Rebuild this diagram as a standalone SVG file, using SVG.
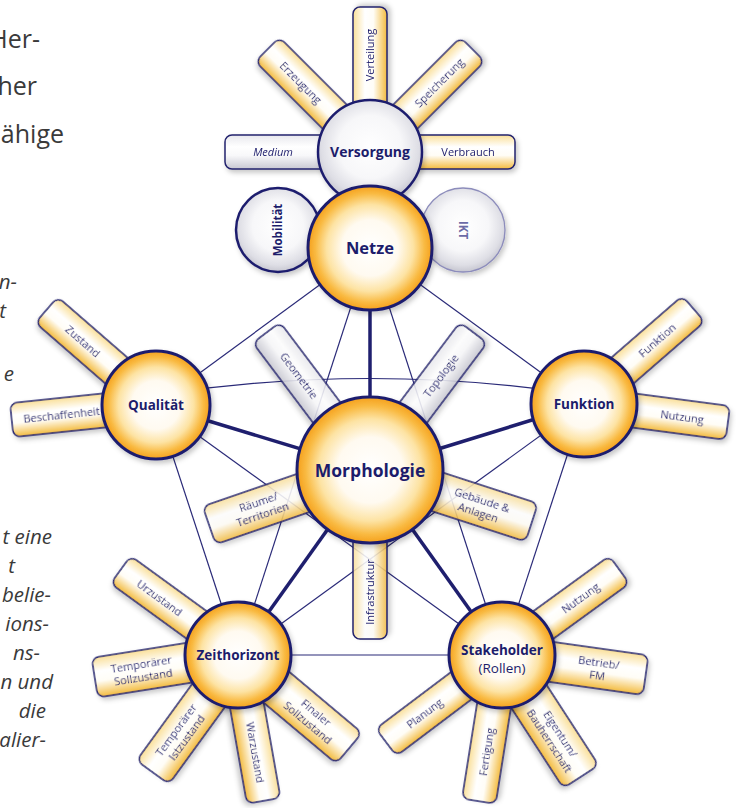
<svg xmlns="http://www.w3.org/2000/svg" width="736" height="808" viewBox="0 0 736 808">
<defs>
<radialGradient id="go" cx="50%" cy="50%" r="50%">
<stop offset="0" stop-color="#ffffff"/>
<stop offset="0.45" stop-color="#fffaf0"/>
<stop offset="0.7" stop-color="#fde3a3"/>
<stop offset="0.88" stop-color="#f9ba42"/>
<stop offset="1" stop-color="#f5a01c"/>
</radialGradient>
<radialGradient id="gg" cx="50%" cy="45%" r="55%">
<stop offset="0" stop-color="#ffffff"/>
<stop offset="0.55" stop-color="#f7f7f9"/>
<stop offset="0.85" stop-color="#dedee5"/>
<stop offset="1" stop-color="#c6c6d0"/>
</radialGradient>
<linearGradient id="py" x1="0" y1="0" x2="0" y2="1">
<stop offset="0" stop-color="#fadf98"/>
<stop offset="0.35" stop-color="#ffffff"/>
<stop offset="0.6" stop-color="#fffdf6"/>
<stop offset="1" stop-color="#f3bb3e"/>
</linearGradient>
<linearGradient id="pg" x1="0" y1="0" x2="0" y2="1">
<stop offset="0" stop-color="#e8e8ed"/>
<stop offset="0.35" stop-color="#ffffff"/>
<stop offset="0.6" stop-color="#f8f8fa"/>
<stop offset="1" stop-color="#c8c8d2"/>
</linearGradient>
<filter id="sh" x="-30%" y="-30%" width="160%" height="160%">
<feDropShadow dx="2" dy="3" stdDeviation="2.5" flood-color="#000" flood-opacity="0.22"/>
</filter>
<style>
.side{font-family:"Open Sans","Noto Sans",sans-serif;fill:#3a3a3a}
.big{font-size:25px}
.it{font-size:20.5px;font-style:italic}
.py{fill:url(#py);stroke:#23236e;stroke-width:1.5}
.pg{fill:url(#pg);stroke:#23236e;stroke-width:1.5}
.mo{fill-opacity:0.86}
.pl{font-family:"Open Sans","Noto Sans",sans-serif;font-size:11px;fill:#1c1c6b;text-anchor:middle}
.co{fill:url(#go);stroke:#1f1f6e;stroke-width:3}
.cg{fill:url(#gg);stroke:#1f1f6e;stroke-width:2.5}
.nl{font-family:"Open Sans","Noto Sans",sans-serif;font-weight:bold;fill:#1c1c6b;text-anchor:middle}
.thin{stroke:#2a2a78;stroke-width:1.2;fill:none}
.thick{stroke:#1f1f6e;stroke-width:3.5;fill:none}
</style>
</defs>
<rect width="736" height="808" fill="#ffffff"/>

<g id="side-text">
<text class="side big" x="40" y="48" text-anchor="end">Her-</text>
<text class="side big" x="37" y="95" text-anchor="end">her</text>
<text class="side big" x="64" y="143" text-anchor="end">ähige</text>
<text class="side it" x="17" y="289" text-anchor="end">n-</text>
<text class="side it" x="6" y="318" text-anchor="end">t</text>
<text class="side it" x="14" y="381" text-anchor="end">e</text>
<text class="side it" x="52" y="544" text-anchor="end">t eine</text>
<text class="side it" x="15" y="573" text-anchor="end">t</text>
<text class="side it" x="51" y="602" text-anchor="end">belie-</text>
<text class="side it" x="49" y="631" text-anchor="end">ions-</text>
<text class="side it" x="40" y="660" text-anchor="end">ns-</text>
<text class="side it" x="53" y="689" text-anchor="end">n und</text>
<text class="side it" x="46" y="718" text-anchor="end">die</text>
<text class="side it" x="46" y="747" text-anchor="end">alier-</text>
</g>

<g id="connectors">
<line class="thin" x1="370" y1="248" x2="156" y2="405"/>
<line class="thin" x1="370" y1="248" x2="584" y2="404"/>
<line class="thin" x1="156" y1="405" x2="238" y2="655"/>
<line class="thin" x1="584" y1="404" x2="502" y2="655"/>
<line class="thin" x1="238" y1="655" x2="502" y2="655"/>
<line class="thin" x1="370" y1="248" x2="238" y2="655"/>
<line class="thin" x1="370" y1="248" x2="502" y2="655"/>
<line class="thin" x1="156" y1="405" x2="502" y2="655"/>
<line class="thin" x1="584" y1="404" x2="238" y2="655"/>
<path class="thin" d="M156 395 Q370 362 584 395"/>
<line class="thick" x1="370" y1="248" x2="370" y2="470"/>
<line class="thick" x1="156" y1="405" x2="370" y2="470"/>
<line class="thick" x1="584" y1="404" x2="370" y2="470"/>
<line class="thick" x1="238" y1="655" x2="370" y2="470"/>
<line class="thick" x1="502" y1="655" x2="370" y2="470"/>
</g>

<g id="node-versorgung">
<g transform="translate(370,152) rotate(0)" filter="url(#sh)"><rect class="pg" x="-145" y="-17" width="105" height="34" rx="7"/><text class="pl" x="-97" y="4" font-style="italic">Medium</text></g>
<g transform="translate(370,152) rotate(45)" filter="url(#sh)"><rect class="py" x="-145" y="-17" width="105" height="34" rx="7"/><text class="pl" x="-98" y="4">Erzeugung</text></g>
<g transform="translate(370,152) rotate(-90)" filter="url(#sh)"><rect class="py" x="40" y="-17" width="105" height="34" rx="7"/><text class="pl" x="97" y="4">Verteilung</text></g>
<g transform="translate(370,152) rotate(-45)" filter="url(#sh)"><rect class="py" x="40" y="-17" width="105" height="34" rx="7"/><text class="pl" x="98" y="4">Speicherung</text></g>
<g transform="translate(370,152) rotate(0)" filter="url(#sh)"><rect class="py" x="40" y="-17" width="105" height="34" rx="7"/><text class="pl" x="98" y="4">Verbrauch</text></g>
<circle class="cg" cx="370" cy="152" r="52" filter="url(#sh)"/>
<text class="nl" x="370" y="157" font-size="14">Versorgung</text>
</g>

<g id="node-mobilitaet">
<circle class="cg" cx="278" cy="230" r="42" stroke-width="1.8" filter="url(#sh)"/>
<text class="nl" transform="translate(282,230) rotate(-90)" font-size="11.5">Mobilität</text>
</g>

<g id="node-ikt">
<circle cx="463" cy="230" r="42" fill="url(#gg)" stroke="#8c8cbb" stroke-width="1.3" filter="url(#sh)"/>
<text class="nl" transform="translate(459,230) rotate(90)" font-size="11.5" style="fill:#6b6ba6">IKT</text>
</g>

<g id="node-netze">
<circle class="co" cx="370" cy="248" r="62" filter="url(#sh)"/>
<text class="nl" x="370" y="254" font-size="16.5">Netze</text>
</g>

<g id="node-qualitaet">
<g transform="translate(156,405) rotate(41)" filter="url(#sh)"><rect class="py" x="-145" y="-17" width="105" height="34" rx="7"/><text class="pl" x="-97" y="4">Zustand</text></g>
<g transform="translate(156,405) rotate(-6)" filter="url(#sh)"><rect class="py" x="-145" y="-17" width="105" height="34" rx="7"/><text class="pl" x="-95" y="4">Beschaffenheit</text></g>
<circle class="co" cx="156" cy="405" r="54" filter="url(#sh)"/>
<text class="nl" x="156" y="410" font-size="13.5">Qualität</text>
</g>

<g id="node-funktion">
<g transform="translate(584,404) rotate(-41)" filter="url(#sh)"><rect class="py" x="40" y="-17" width="105" height="34" rx="7"/><text class="pl" x="97" y="4">Funktion</text></g>
<g transform="translate(584,404) rotate(7.5)" filter="url(#sh)"><rect class="py" x="40" y="-17" width="105" height="34" rx="7"/><text class="pl" x="99" y="4">Nutzung</text></g>
<circle class="co" cx="584" cy="404" r="53" filter="url(#sh)"/>
<text class="nl" x="584" y="409" font-size="13.5">Funktion</text>
</g>

<g id="node-morphologie">
<g transform="translate(370,470) rotate(53)" filter="url(#sh)"><rect class="pg mo" x="-172" y="-17" width="112" height="34" rx="7"/><text class="pl" x="-118" y="4">Geometrie</text></g>
<g transform="translate(370,470) rotate(-53)" filter="url(#sh)"><rect class="pg mo" x="60" y="-17" width="112" height="34" rx="7"/><text class="pl" x="118" y="4">Topologie</text></g>
<g transform="translate(370,470) rotate(-19)" filter="url(#sh)"><rect class="py mo" x="-170" y="-20" width="110" height="40" rx="7"/><text class="pl" x="-116" y="-2.5">Räume/<tspan x="-116" dy="13">Territorien</tspan></text></g>
<g transform="translate(370,470) rotate(18)" filter="url(#sh)"><rect class="py mo" x="60" y="-20" width="110" height="40" rx="7"/><text class="pl" x="116" y="-2.5">Gebäude &amp;<tspan x="116" dy="13">Anlagen</tspan></text></g>
<g transform="translate(370,470) rotate(-90)" filter="url(#sh)"><rect class="py mo" x="-169" y="-17" width="109" height="34" rx="7"/><text class="pl" x="-122" y="4">Infrastruktur</text></g>
<circle class="co" cx="370" cy="470" r="73" filter="url(#sh)"/>
<text class="nl" x="370" y="477" font-size="17.5">Morphologie</text>
</g>

<g id="node-zeithorizont">
<g transform="translate(238,655) rotate(36)" filter="url(#sh)"><rect class="py" x="-145" y="-17" width="105" height="34" rx="7"/><text class="pl" x="-97" y="4">Urzustand</text></g>
<g transform="translate(238,655) rotate(-9)" filter="url(#sh)"><rect class="py" x="-145" y="-20" width="105" height="40" rx="7"/><text class="pl" x="-97" y="-2.5">Temporärer<tspan x="-97" dy="13">Sollzustand</tspan></text></g>
<g transform="translate(238,655) rotate(-54)" filter="url(#sh)"><rect class="py" x="-145" y="-20" width="105" height="40" rx="7"/><text class="pl" x="-97" y="-2.5">Temporärer<tspan x="-97" dy="13">Istzustand</tspan></text></g>
<g transform="translate(238,655) rotate(80)" filter="url(#sh)"><rect class="py" x="40" y="-17" width="108" height="34" rx="7"/><text class="pl" x="99" y="4">Warzustand</text></g>
<g transform="translate(238,655) rotate(40)" filter="url(#sh)"><rect class="py" x="40" y="-20" width="105" height="40" rx="7"/><text class="pl" x="97" y="-2.5">Finaler<tspan x="97" dy="13">Sollzustand</tspan></text></g>
<circle class="co" cx="238" cy="655" r="53" filter="url(#sh)"/>
<text class="nl" x="238" y="660" font-size="13.5">Zeithorizont</text>
</g>

<g id="node-stakeholder">
<g transform="translate(502,655) rotate(-36)" filter="url(#sh)"><rect class="py" x="40" y="-17" width="105" height="34" rx="7"/><text class="pl" x="97" y="4">Nutzung</text></g>
<g transform="translate(502,655) rotate(8)" filter="url(#sh)"><rect class="py" x="40" y="-20" width="105" height="40" rx="7"/><text class="pl" x="97" y="-2.5">Betrieb/<tspan x="97" dy="13">FM</tspan></text></g>
<g transform="translate(502,655) rotate(57)" filter="url(#sh)"><rect class="py" x="40" y="-21" width="105" height="42" rx="7"/><text class="pl" x="98" y="-2.5">Eigentum/<tspan x="98" dy="13">Bauherrschaft</tspan></text></g>
<g transform="translate(502,655) rotate(-81)" filter="url(#sh)"><rect class="py" x="-148" y="-17" width="108" height="34" rx="7"/><text class="pl" x="-98" y="4">Fertigung</text></g>
<g transform="translate(502,655) rotate(-37)" filter="url(#sh)"><rect class="py" x="-145" y="-17" width="105" height="34" rx="7"/><text class="pl" x="-97" y="4">Planung</text></g>
<circle class="co" cx="502" cy="655" r="53" filter="url(#sh)"/>
<text class="nl" x="502" y="655" font-size="13.5">Stakeholder</text>
<text class="nl" x="502" y="673" font-size="13.5" style="font-weight:normal">(Rollen)</text>
</g>
</svg>
